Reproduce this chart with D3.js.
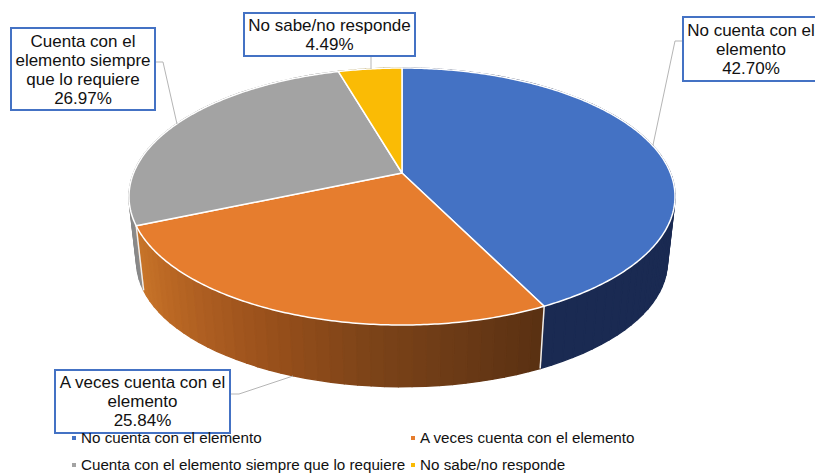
<!DOCTYPE html>
<html><head><meta charset="utf-8">
<script src="https://cdn.jsdelivr.net/npm/d3@7/dist/d3.min.js"></script>
<style>html,body{margin:0;padding:0;background:#fff;overflow:hidden}svg{display:block}text{font-family:"Liberation Sans",Arial,sans-serif;fill:#111}</style>
</head><body><svg id="c" width="815" height="473"></svg>
<script>
const categories=["No cuenta con el elemento","A veces cuenta con el elemento","Cuenta con el elemento siempre que lo requiere","No sabe/no responde"];
const values=[42.70,25.84,26.97,4.49];
const labelLines=[["No cuenta con el","elemento","42.70%"],["A veces cuenta con el","elemento","25.84%"],["Cuenta con el","elemento siempre","que lo requiere","26.97%"],["No sabe/no responde","4.49%"]];

const colors=["#4472c4","#e67d2e","#a3a3a3","#fabb05"];
const wallStops=[
 ["#1a2a52","#1a2a52"],
 ["#5a3112","#6b3a16","#7c4318","#934d1a","#a85a20","#bb6824","#c8752a"],
 ["#8a8a8a","#6a6a6a"],
 ["#8a6a00","#8a6a00"]];
const boxes=[
 {x:683,y:17,w:150,h:64,tx:751,ty:30,leader:[[683,41],[675,41],[653,145]]},
 {x:55,y:370,w:175,h:63,tx:142.5,ty:382,leader:[[230,394],[239,394],[293,376]]},
 {x:11,y:28,w:144,h:82,tx:83,ty:41,leader:[[155,62],[163,62],[177,124]]},
 {x:244,y:13,w:171,h:43,tx:329.5,ty:25,leader:[[371,56],[371,69]]}];
const legendPos=[{x:72,y:438},{x:411,y:438},{x:72,y:465},{x:411,y:465}];

const svg=d3.select("#c");
const cx=402,cyTop=173,cyBot=239,a=124.2,b=268.4,k=0.183,botScale=0.972;
const project=(ang,top)=>{
  const x=Math.sin(ang),y=-Math.cos(ang),d=1-k*y,s=top?1:botScale;
  return [cx+s*b*x/d,(top?cyTop:cyBot)+s*a*y/d];
};
const arcs=d3.pie().sort(null).value(d=>d)(values);
const line=d3.line();
const STEP=Math.PI/180*2.5;

// side wall, back to front
const strips=[];
arcs.forEach((d,i)=>{
  const n=Math.max(2,Math.ceil((d.endAngle-d.startAngle)/STEP));
  const col=d3.scaleLinear().domain(d3.range(wallStops[i].length).map(q=>q/(wallStops[i].length-1))).range(wallStops[i]).interpolate(d3.interpolateRgb);
  d3.range(n).forEach(j=>{
    const t0=d.startAngle+(d.endAngle-d.startAngle)*j/n;
    const t1=d.startAngle+(d.endAngle-d.startAngle)*(j+1)/n;
    strips.push({t0,t1,i,fill:col(j/(n-1))});
  });
});
strips.sort((p,q)=>project((p.t0+p.t1)/2,true)[1]-project((q.t0+q.t1)/2,true)[1]);
svg.append("g").selectAll("path").data(strips).join("path")
  .attr("d",s=>line([project(s.t0,true),project(s.t1,true),project(s.t1,false),project(s.t0,false)])+"Z")
  .attr("fill",s=>s.fill).attr("stroke",s=>s.fill).attr("stroke-width",1.4).attr("stroke-linejoin","round");

// vertical white edges at visible slice boundaries
svg.append("g").selectAll("line").data(arcs.slice(0,2)).join("line")
  .attr("x1",d=>project(d.endAngle,true)[0]).attr("y1",d=>project(d.endAngle,true)[1])
  .attr("x2",d=>project(d.endAngle,false)[0]).attr("y2",d=>project(d.endAngle,false)[1])
  .attr("stroke","#eee").attr("stroke-width",1.5);

// top face
svg.append("g").selectAll("path").data(arcs).join("path")
  .attr("d",d=>{
    const n=Math.ceil((d.endAngle-d.startAngle)/(STEP/4));
    const pts=[[cx,cyTop]];
    d3.range(n+1).forEach(j=>pts.push(project(d.startAngle+(d.endAngle-d.startAngle)*j/n,true)));
    return line(pts)+"Z";
  })
  .attr("fill",(d,i)=>colors[i]).attr("stroke","#fff").attr("stroke-width",1.5).attr("stroke-linejoin","round");

// leaders
svg.append("g").selectAll("path").data(boxes).join("path")
  .attr("d",d=>line(d.leader)).attr("fill","none").attr("stroke","#b5b5b5").attr("stroke-width",1);

// label boxes
const lg=svg.append("g").selectAll("g").data(boxes).join("g");
lg.append("rect").attr("x",d=>d.x).attr("y",d=>d.y).attr("width",d=>d.w).attr("height",d=>d.h)
  .attr("fill","#fff").attr("stroke","#4472c4").attr("stroke-width",2);
lg.each(function(d,i){
  d3.select(this).selectAll("text").data(labelLines[i]).join("text")
    .attr("x",d.tx).attr("y",(t,j)=>d.ty+j*19).attr("dy","0.35em")
    .attr("text-anchor","middle").attr("font-size",17).text(t=>t);
});

// legend
const leg=svg.append("g").selectAll("g").data(categories).join("g").attr("transform",(d,i)=>`translate(${legendPos[i].x},${legendPos[i].y})`);
leg.append("rect").attr("x",0).attr("y",-2).attr("width",4).attr("height",4).attr("fill",(d,i)=>colors[i]);
leg.append("text").attr("x",9).attr("dy","0.35em").attr("font-size",15.2).text(d=>d);
</script></body></html>
